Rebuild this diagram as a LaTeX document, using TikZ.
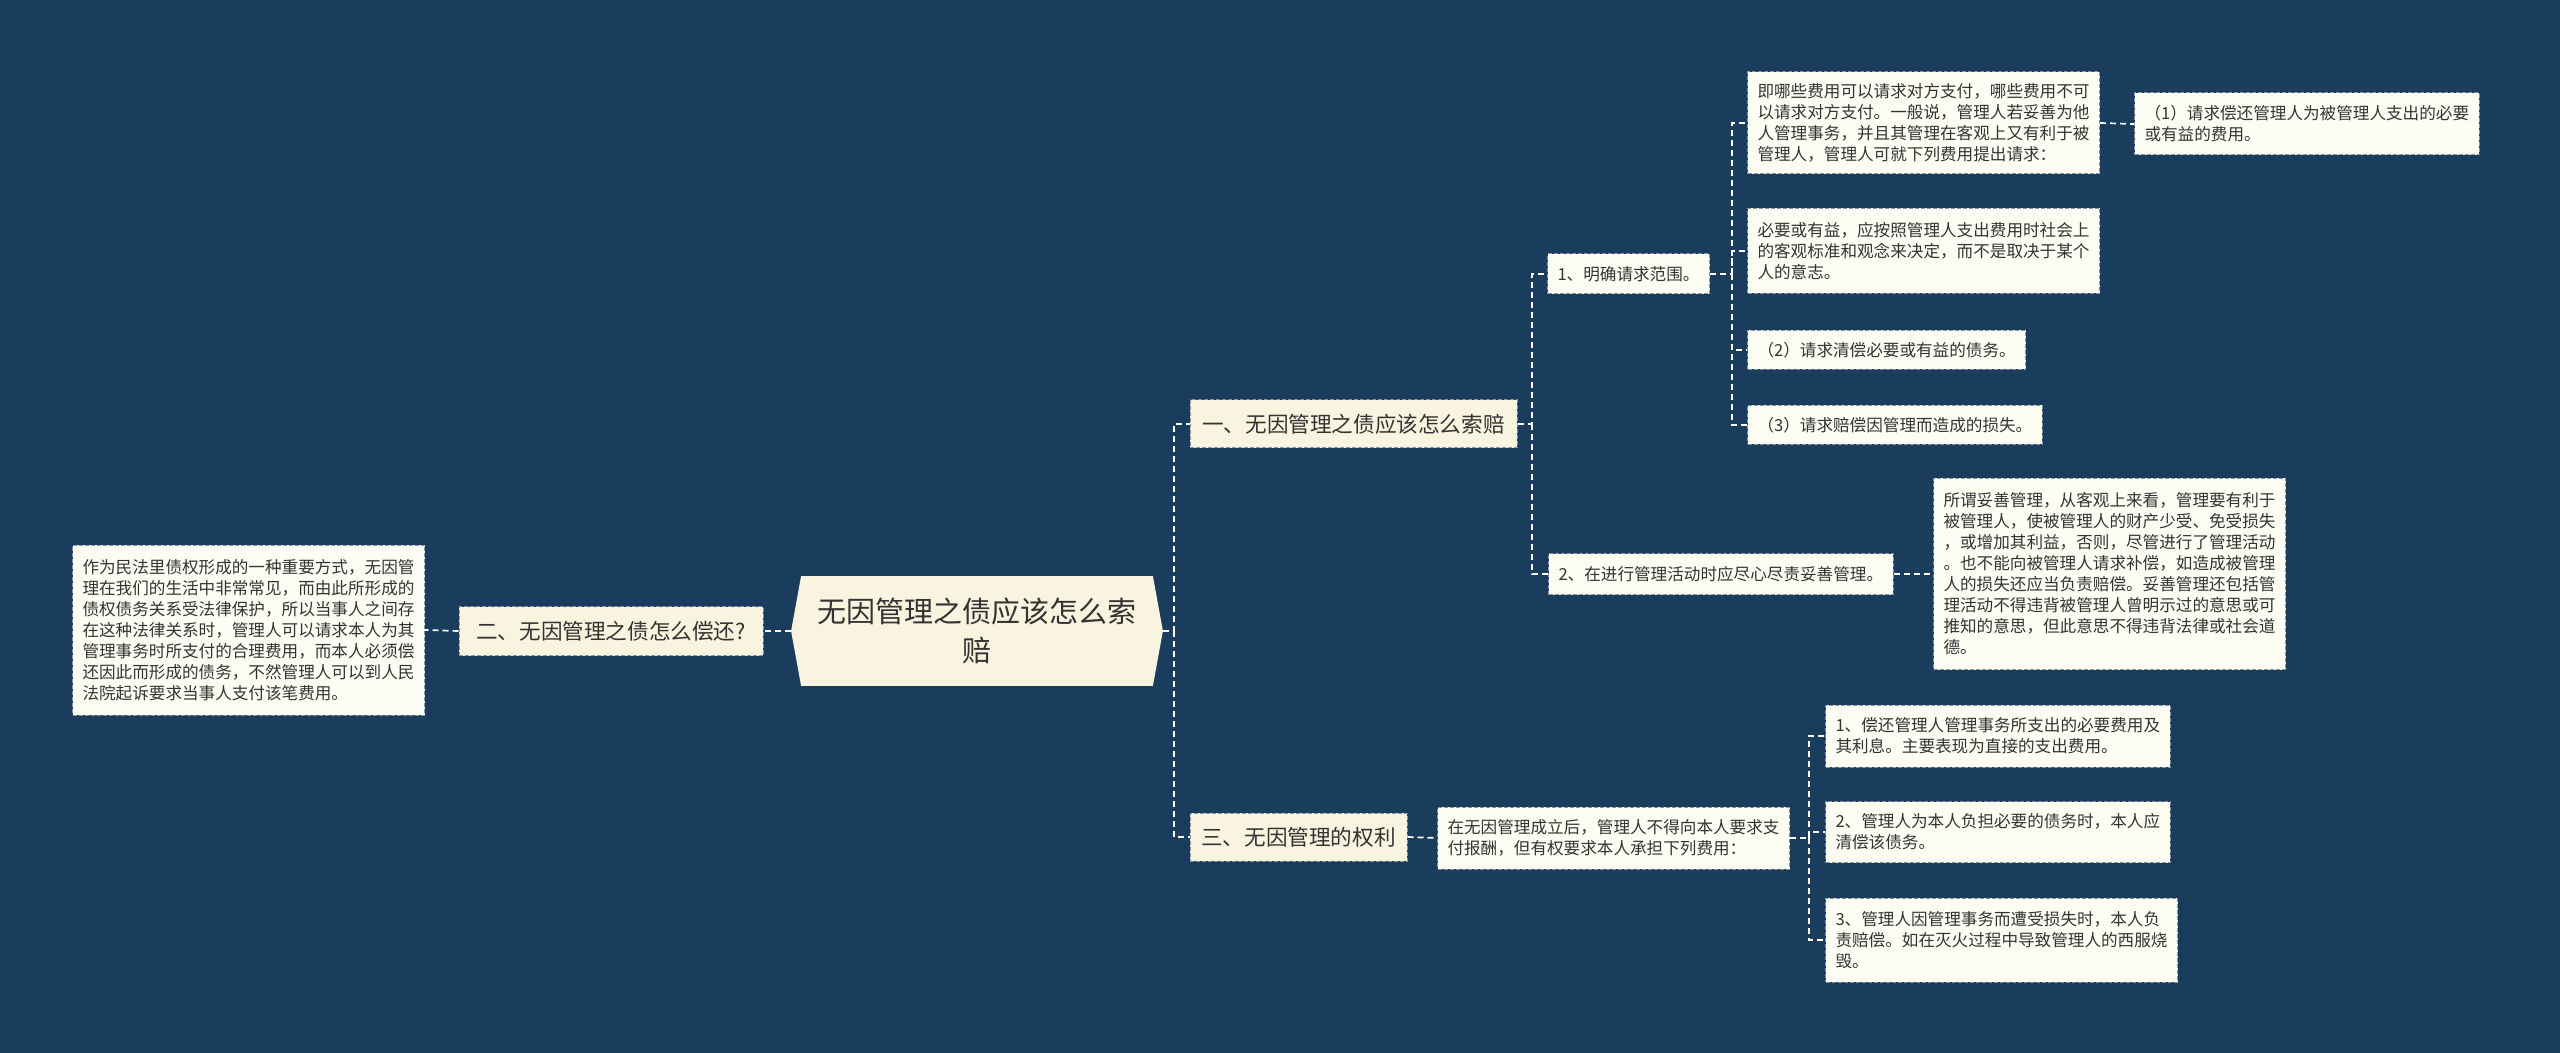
\documentclass[tikz,border=0pt]{standalone}
\usepackage{fontspec}
\newfontfamily\cjk{Noto Sans CJK SC}
\usetikzlibrary{backgrounds}
\definecolor{bgc}{HTML}{1A3D5E}
\definecolor{cream}{HTML}{F8F4DF}
\definecolor{leaff}{HTML}{FDFDF4}
\definecolor{bord}{HTML}{8595A3}
\definecolor{txt}{HTML}{333333}
\tikzset{
  conn/.style={draw=white, line width=0.85pt, dash pattern=on 3pt off 2pt},
  boxbase/.style={draw=bord, line width=0.5pt, dash pattern=on 2pt off 1pt, text=txt, inner xsep=5pt, inner ysep=0pt},
  branchbox/.style={boxbase, fill=cream, align=center, font=\cjk\fontsize{10.8pt}{13pt}\selectfont},
  leafbox/.style={boxbase, fill=leaff, anchor=west, align=left, font=\cjk\fontsize{8.3pt}{10.5pt}\selectfont},
  centertext/.style={inner sep=0pt, minimum width=185.5pt, minimum height=54.5pt, align=center, text=txt, font=\cjk\fontsize{14.5pt}{19.5pt}\selectfont},
}
\begin{document}
\begin{tikzpicture}[x=0.5pt,y=-0.5pt]
\useasboundingbox (0,0) rectangle (2560,1053);
% central topic
\node[centertext] (c) at (977,631) {无因管理之债应该怎么索\\赔};
\begin{scope}[on background layer]
  \fill[bgc] (0,0) rectangle (2560,1053);
  \fill[cream] ([xshift=5pt]c.north west) -- (c.west) -- ([xshift=5pt]c.south west)
     -- ([xshift=-5pt]c.south east) -- (c.east) -- ([xshift=-5pt]c.north east) -- cycle;
\end{scope}
% left side
\node[branchbox, minimum width=152pt, minimum height=24.5pt] (l) at (611,631) {二、无因管理之债怎么偿还?};
\node[leafbox, minimum height=85pt] (ll) at (72,630) {作为民法里债权形成的一种重要方式，无因管\\理在我们的生活中非常常见，而由此所形成的\\债权债务关系受法律保护，所以当事人之间存\\在这种法律关系时，管理人可以请求本人为其\\管理事务时所支付的合理费用，而本人必须偿\\还因此而形成的债务，不然管理人可以到人民\\法院起诉要求当事人支付该笔费用。};
% right branches
\node[branchbox, minimum width=163.5pt, minimum height=24pt] (b1) at (1353.5,424) {一、无因管理之债应该怎么索赔};
\node[branchbox, minimum width=108.5pt, minimum height=24pt] (b3) at (1298.5,837) {三、无因管理的权利};
% branch 1 children
\node[leafbox, minimum height=20pt] (s1) at (1547,274) {1、明确请求范围。};
\node[leafbox, minimum height=20.5pt] (s2) at (1548,574) {2、在进行管理活动时应尽心尽责妥善管理。};
\node[leafbox, minimum height=51pt] (l1a) at (1747,123) {即哪些费用可以请求对方支付，哪些费用不可\\以请求对方支付。一般说，管理人若妥善为他\\人管理事务，并且其管理在客观上又有利于被\\管理人，管理人可就下列费用提出请求：};
\node[leafbox, minimum height=31pt] (l1ac) at (2134,124) {（1）请求偿还管理人为被管理人支出的必要\\或有益的费用。};
\node[leafbox, minimum height=42.5pt] (l1b) at (1747,251) {必要或有益，应按照管理人支出费用时社会上\\的客观标准和观念来决定，而不是取决于某个\\人的意志。};
\node[leafbox, minimum height=19.5pt] (l1c) at (1747,350) {（2）请求清偿必要或有益的债务。};
\node[leafbox, minimum height=19.5pt] (l1d) at (1747,425) {（3）请求赔偿因管理而造成的损失。};
\node[leafbox, minimum height=95.5pt] (s2l) at (1933,574) {所谓妥善管理，从客观上来看，管理要有利于\\被管理人，使被管理人的财产少受、免受损失\\，或增加其利益，否则，尽管进行了管理活动\\。也不能向被管理人请求补偿，如造成被管理\\人的损失还应当负责赔偿。妥善管理还包括管\\理活动不得违背被管理人曾明示过的意思或可\\推知的意思，但此意思不得违背法律或社会道\\德。};
% branch 3 children
\node[leafbox, minimum height=31pt] (b3c) at (1437,838) {在无因管理成立后，管理人不得向本人要求支\\付报酬，但有权要求本人承担下列费用：};
\node[leafbox, minimum height=31pt] (c1) at (1825,736) {1、偿还管理人管理事务所支出的必要费用及\\其利息。主要表现为直接的支出费用。};
\node[leafbox, minimum height=30.5pt] (c2) at (1825,832) {2、管理人为本人负担必要的债务时，本人应\\清偿该债务。};
\node[leafbox, minimum height=42pt] (c3) at (1825,940) {3、管理人因管理事务而遭受损失时，本人负\\责赔偿。如在灭火过程中导致管理人的西服烧\\毁。};
% connectors
\coordinate (j0) at (1174,631);
\coordinate (j1) at (1532,424);
\coordinate (j2) at (1732,274);
\coordinate (j3) at (1809,838);
\draw[conn] (c.west) -- (l.east);
\draw[conn] (l.west) -- (ll.east);
\draw[conn] (c.east) -- (j0) |- (b1.west);
\draw[conn] (j0) |- (b3.west);
\draw[conn] (b1.east) -- (j1) |- (s1.west);
\draw[conn] (j1) |- (s2.west);
\draw[conn] (s1.east) -- (j2) |- (l1a.west);
\draw[conn] (j2) |- (l1b.west);
\draw[conn] (j2) |- (l1c.west);
\draw[conn] (j2) |- (l1d.west);
\draw[conn] (l1a.east) -- (l1ac.west);
\draw[conn] (s2.east) -- (s2l.west);
\draw[conn] (b3.east) -- (b3c.west);
\draw[conn] (b3c.east) -- (j3) |- (c1.west);
\draw[conn] (j3) |- (c2.west);
\draw[conn] (j3) |- (c3.west);
\end{tikzpicture}
\end{document}
